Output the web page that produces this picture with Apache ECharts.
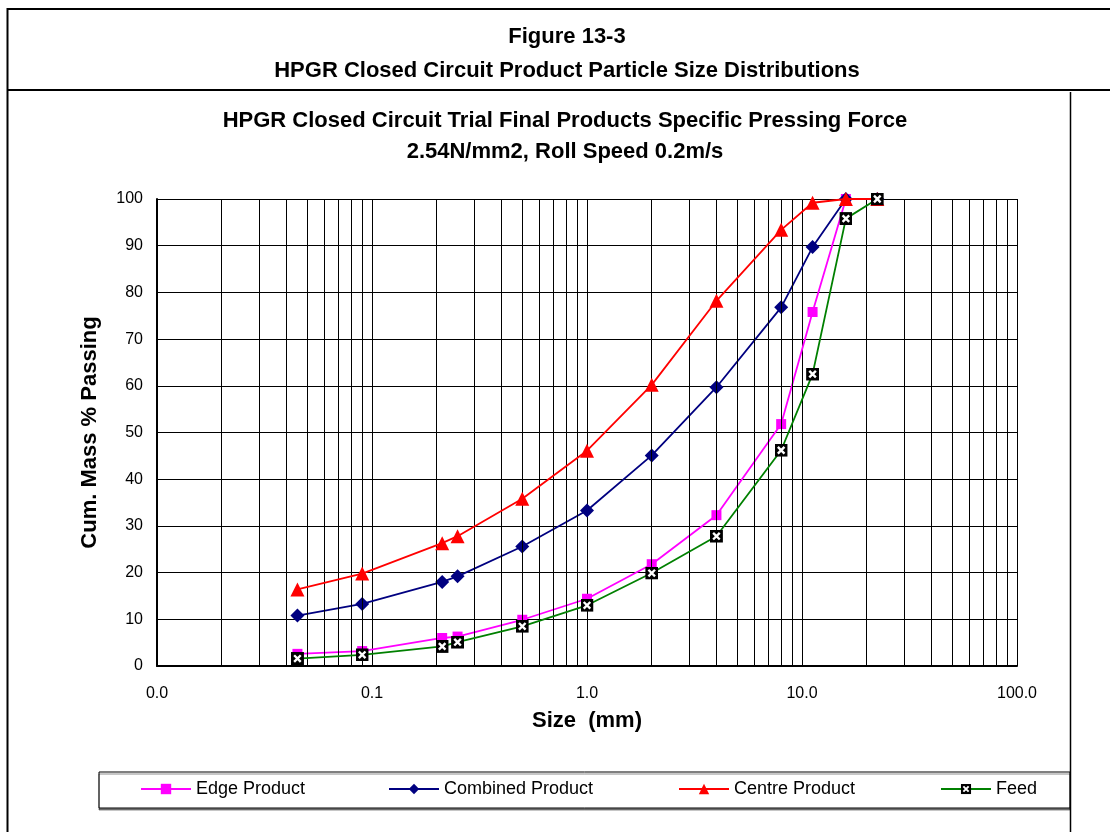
<!DOCTYPE html>
<html>
<head>
<meta charset="utf-8">
<script src="https://cdn.jsdelivr.net/npm/echarts@6/dist/echarts.min.js"></script>
<style>
  html, body { margin: 0; padding: 0; background: #fff; }
  #chart { width: 1110px; height: 832px; }
</style>
</head>
<body>
<div id="chart"></div>
<script>
// ---- data ----
const sizes = [0.045, 0.09, 0.212, 0.25, 0.5, 1, 2, 4, 8, 11.2, 16, 22.4];
const edgeProduct     = [2.6, 3.2, 6.0, 6.3, 9.9, 14.4, 21.8, 32.3, 51.8, 75.8, 100, 100];
const combinedProduct = [10.8, 13.3, 18.0, 19.2, 25.6, 33.3, 45.1, 59.7, 76.8, 89.7, 100, 100];
const centreProduct   = [16.4, 19.8, 26.3, 27.8, 35.8, 46.1, 60.2, 78.2, 93.4, 99.2, 100, 100];
const feed            = [1.6, 2.4, 4.2, 5.1, 8.5, 13.0, 19.9, 27.8, 46.2, 62.5, 95.8, 100];
const seriesNames = ['Edge Product', 'Combined Product', 'Centre Product', 'Feed'];
const yTicks = [0, 10, 20, 30, 40, 50, 60, 70, 80, 90, 100];
const xDecades = [0.01, 0.1, 1, 10, 100];

const pairs = (ys) => sizes.map((s, i) => [s, ys[i]]);

// minor log grid lines (2..9 within each decade)
const minorGrid = [];
for (let d = 0; d < xDecades.length - 1; d++) {
  for (let m = 2; m <= 9; m++) minorGrid.push({ xAxis: +(xDecades[d] * m).toPrecision(3) });
}

const feedSymbol = 'image://data:image/svg+xml;utf8,' + encodeURIComponent(
  "<svg xmlns='http://www.w3.org/2000/svg' width='13' height='13' viewBox='0 0 13 13'>" +
  "<rect width='13' height='13' fill='black'/>" +
  "<path d='M3.2 3.2L9.8 9.8M9.8 3.2L3.2 9.8' stroke='white' stroke-width='2.4'/></svg>");

const FONT = 'Liberation Sans, Arial, sans-serif';
const chart = echarts.init(document.getElementById('chart'), null, { renderer: 'canvas' });

const legendLeft = [140, 388, 678, 940];

chart.setOption({
  animation: false,
  backgroundColor: '#fff',
  textStyle: { fontFamily: FONT, color: '#000' },
  title: [
    { text: 'Figure 13-3', left: 562, top: 21, textAlign: 'center',
      textStyle: { fontFamily: FONT, fontSize: 22, fontWeight: 'bold', color: '#000' } },
    { text: 'HPGR Closed Circuit Product Particle Size Distributions', left: 562, top: 55, textAlign: 'center',
      textStyle: { fontFamily: FONT, fontSize: 22, fontWeight: 'bold', color: '#000' } },
    { text: 'HPGR Closed Circuit Trial Final Products Specific Pressing Force\n2.54N/mm2, Roll Speed 0.2m/s',
      left: 560, top: 100, textAlign: 'center',
      textStyle: { fontFamily: FONT, fontSize: 22, fontWeight: 'bold', color: '#000', lineHeight: 31 } }
  ],
  grid: { left: 157, top: 199, width: 860, height: 467, containLabel: false },
  xAxis: {
    type: 'log', logBase: 10, min: 0.01, max: 100,
    name: 'Size  (mm)', nameLocation: 'middle', nameGap: 44,
    nameTextStyle: { fontFamily: FONT, fontSize: 22, fontWeight: 'bold', color: '#000' },
    axisLine: { show: true, onZero: false, lineStyle: { color: '#000', width: 2 } },
    axisTick: { show: false },
    axisLabel: { margin: 20, fontFamily: FONT, fontSize: 16, color: '#000',
      formatter: (v) => Number(v).toFixed(1) },
    splitLine: { show: true, lineStyle: { color: '#000', width: 1 } },
    minorTick: { show: false }, minorSplitLine: { show: false }
  },
  yAxis: {
    type: 'value', min: 0, max: 100, interval: 10,
    name: 'Cum. Mass % Passing', nameLocation: 'middle', nameGap: 56,
    nameTextStyle: { fontFamily: FONT, fontSize: 22, fontWeight: 'bold', color: '#000' },
    axisLine: { show: true, lineStyle: { color: '#000', width: 2 } },
    axisTick: { show: false },
    axisLabel: { margin: 14, fontFamily: FONT, fontSize: 16, color: '#000' },
    splitLine: { show: true, lineStyle: { color: '#000', width: 1 } }
  },
  legend: seriesNames.map((n, i) => ({
    data: [n], left: legendLeft[i], top: 780, itemWidth: 50, itemHeight: 13, itemGap: 4,
    padding: 0, selectedMode: false,
    textStyle: { fontFamily: FONT, fontSize: 18, color: '#000', padding: [0, 0, 0, 0] }
  })),
  graphic: [
    { type: 'line', shape: { x1: 7.5, y1: 9, x2: 1110, y2: 9 }, style: { stroke: '#000', lineWidth: 2 }, z: 10 },
    { type: 'line', shape: { x1: 7.5, y1: 8, x2: 7.5, y2: 832 }, style: { stroke: '#000', lineWidth: 2 }, z: 10 },
    { type: 'line', shape: { x1: 7.5, y1: 90, x2: 1110, y2: 90 }, style: { stroke: '#000', lineWidth: 2 }, z: 10 },
    { type: 'line', shape: { x1: 1070.5, y1: 92, x2: 1070.5, y2: 832 }, style: { stroke: '#000', lineWidth: 1.5 }, z: 10 },
    { type: 'rect', shape: { x: 99, y: 772, width: 971, height: 36 },
      style: { fill: '#fff', stroke: '#000', lineWidth: 1,
        shadowColor: 'rgba(0,0,0,0.45)', shadowOffsetX: 0, shadowOffsetY: 2, shadowBlur: 0 }, z: -1 }
  ],
  series: [
    { name: 'Edge Product', type: 'line', data: pairs(edgeProduct),
      symbol: 'rect', symbolSize: 10, showAllSymbol: true,
      itemStyle: { color: '#FF00FF' }, lineStyle: { color: '#FF00FF', width: 1.8 },
      markLine: { silent: true, symbol: ['none', 'none'], animation: false,
        label: { show: false }, lineStyle: { color: '#000', width: 1, type: 'solid' },
        emphasis: { disabled: true }, data: minorGrid }, z: 3 },
    { name: 'Combined Product', type: 'line', data: pairs(combinedProduct),
      symbol: 'diamond', symbolSize: 14, showAllSymbol: true,
      itemStyle: { color: '#000080' }, lineStyle: { color: '#000080', width: 1.8 }, z: 4 },
    { name: 'Centre Product', type: 'line', data: pairs(centreProduct),
      symbol: 'triangle', symbolSize: 14, showAllSymbol: true,
      itemStyle: { color: '#FF0000' }, lineStyle: { color: '#FF0000', width: 1.8 }, z: 5 },
    { name: 'Feed', type: 'line', data: pairs(feed),
      symbol: feedSymbol, symbolSize: 13, showAllSymbol: true,
      itemStyle: { color: '#008000' }, lineStyle: { color: '#008000', width: 1.8 }, z: 6 }
  ]
});
</script>
</body>
</html>
